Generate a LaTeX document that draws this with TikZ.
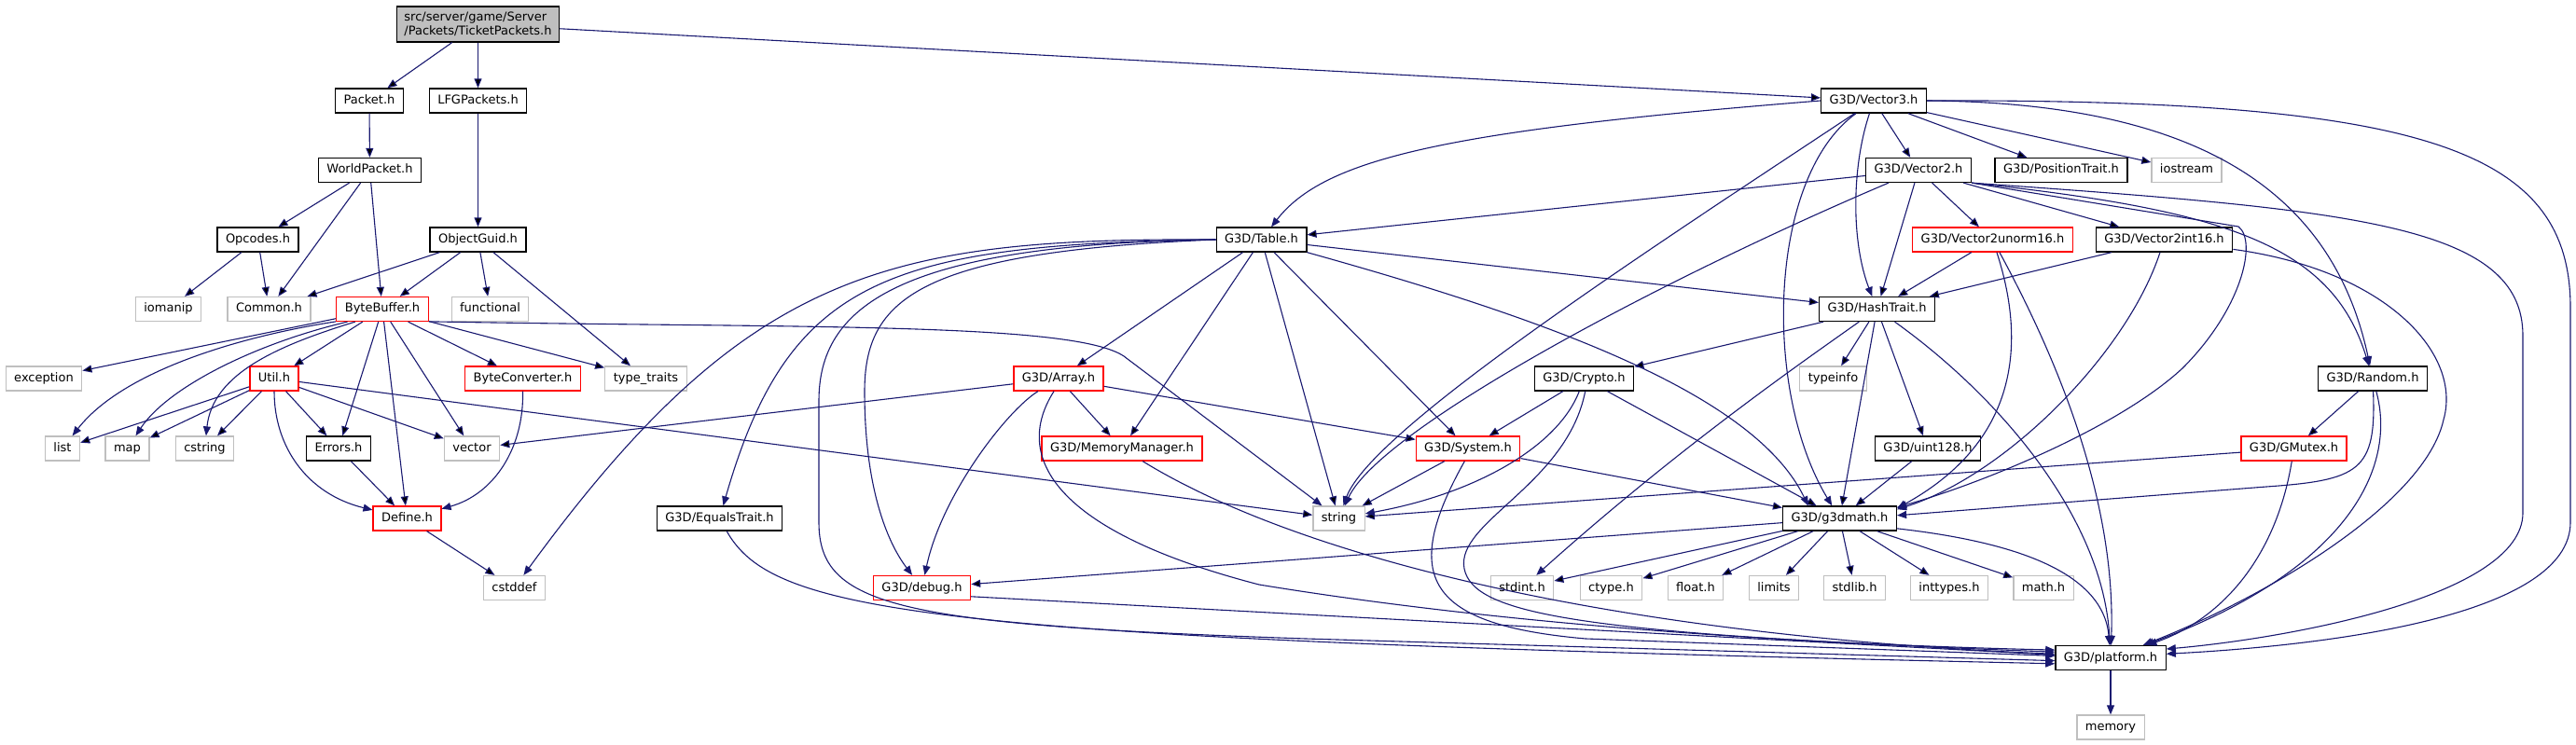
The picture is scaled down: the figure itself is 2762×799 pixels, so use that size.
\documentclass[tikz,border=0pt]{standalone}
\usepackage{fontspec}
\setmainfont{DejaVu Sans}
\usetikzlibrary{arrows.meta}
\definecolor{incblue}{HTML}{191970}
\definecolor{sysgray}{HTML}{BFBFBF}
\begin{document}
\begin{tikzpicture}[x=1pt, y=-1pt,
    hdr/.style={draw=black, line width=1.3pt, fill=white,
      font=\fontsize{13}{15}\selectfont, inner xsep=9pt, inner ysep=0pt,
      minimum height=26pt, text height=10pt, text depth=3pt},
    trunc/.style={hdr, draw=red},
    sys/.style={hdr, draw=sysgray},
    top/.style={draw=black, line width=1.3pt, fill=sysgray,
      font=\fontsize{13}{15}\selectfont, align=left, inner xsep=8pt, inner ysep=6pt},
    inc/.style={draw=incblue, line width=1.1pt, -{Triangle[length=10pt, width=8pt]}}]
    \useasboundingbox (0,0) rectangle (2762,799);

    \node[top] (root) at (512.5,26) {src/server/game/Server\\/Packets/TicketPackets.h};
    \node[hdr] (packet) at (396,108) {Packet.h};
    \node[hdr] (lfg) at (512.5,108) {LFGPackets.h};
    \node[hdr] (vecthree) at (2009,108) {G3D/Vector3.h};
    \node[hdr] (worldpkt) at (396.5,182.5) {WorldPacket.h};
    \node[hdr] (vectwo) at (2057,182.5) {G3D/Vector2.h};
    \node[hdr] (postrait) at (2210,182.5) {G3D/PositionTrait.h};
    \node[sys] (iostream) at (2344.5,182.5) {iostream};
    \node[hdr] (opcodes) at (276.5,257) {Opcodes.h};
    \node[hdr] (objguid) at (512.5,257) {ObjectGuid.h};
    \node[hdr] (table) at (1352.5,257) {G3D/Table.h};
    \node[trunc] (vunorm) at (2136.5,257) {G3D/Vector2unorm16.h};
    \node[hdr] (vint) at (2320.5,257) {G3D/Vector2int16.h};
    \node[sys] (iomanip) at (180.5,331.5) {iomanip};
    \node[sys] (common) at (288.5,331.5) {Common.h};
    \node[trunc] (bytebuf) at (410,331.5) {ByteBuffer.h};
    \node[sys] (functional) at (525.5,331.5) {functional};
    \node[hdr] (hashtrait) at (2012.5,331.5) {G3D/HashTrait.h};
    \node[sys] (exception) at (47,406) {exception};
    \node[trunc] (util) at (294,406) {Util.h};
    \node[trunc] (byteconv) at (560.5,406) {ByteConverter.h};
    \node[sys] (typetraits) at (692.5,406) {type\_traits};
    \node[trunc] (array) at (1135,406) {G3D/Array.h};
    \node[hdr] (crypto) at (1698.5,406) {G3D/Crypto.h};
    \node[sys] (typeinfo) at (1965.5,406) {typeinfo};
    \node[hdr] (random) at (2544,406) {G3D/Random.h};
    \node[sys] (list) at (67,481) {list};
    \node[sys] (map) at (136.5,481) {map};
    \node[sys] (cstring) at (219.5,481) {cstring};
    \node[hdr] (errors) at (363,481) {Errors.h};
    \node[sys] (vector) at (506,481) {vector};
    \node[trunc] (memmgr) at (1203,481) {G3D/MemoryManager.h};
    \node[trunc] (system) at (1574,481) {G3D/System.h};
    \node[hdr] (uint) at (2067,481) {G3D/uint128.h};
    \node[trunc] (gmutex) at (2459.5,481) {G3D/GMutex.h};
    \node[trunc] (define) at (436.5,556) {Define.h};
    \node[hdr] (equals) at (771.5,556) {G3D/EqualsTrait.h};
    \node[sys] (string) at (1435.5,556) {string};
    \node[hdr] (gmath) at (1972.5,556) {G3D/g3dmath.h};
    \node[sys] (cstddef) at (551.5,630.5) {cstddef};
    \node[trunc] (debug) at (988.5,630.5) {G3D/debug.h};
    \node[sys] (stdint) at (1632,630.5) {stdint.h};
    \node[sys] (ctype) at (1727.5,630.5) {ctype.h};
    \node[sys] (float) at (1818,630.5) {float.h};
    \node[sys] (limits) at (1902,630.5) {limits};
    \node[sys] (stdlib) at (1988.5,630.5) {stdlib.h};
    \node[sys] (inttypes) at (2090,630.5) {inttypes.h};
    \node[sys] (mathh) at (2191,630.5) {math.h};
    \node[hdr] (platform) at (2263,705.5) {G3D/platform.h};
    \node[sys] (memory) at (2263,780) {memory};

    \draw[inc] (root) edge (packet) edge (lfg) edge (vecthree);
    \draw[inc] (packet) edge (worldpkt);
    \draw[inc] (lfg) edge (objguid);
    \draw[inc] (worldpkt) edge (opcodes) edge (common) edge (bytebuf);
    \draw[inc] (opcodes) edge (iomanip) edge (common);
    \draw[inc] (objguid) edge (common) edge (bytebuf) edge (functional) edge (typetraits);
    \draw[inc] (bytebuf) edge (exception) edge (util) edge (errors) edge (define) edge (vector) edge (byteconv) edge (typetraits);
    \draw[inc] (util) edge (list) edge (map) edge (cstring) edge (errors) edge (vector) edge (string);
    \draw[inc] (errors) edge (define);
    \draw[inc] (define) edge (cstddef);
    \draw[inc] (vecthree) edge (vectwo) edge (postrait) edge (iostream);
    \draw[inc] (vectwo) edge (table) edge (hashtrait) edge (vunorm) edge (vint);
    \draw[inc] (vunorm) edge (hashtrait);
    \draw[inc] (vint) edge (hashtrait);
    \draw[inc] (table) edge (array) edge (memmgr) edge (string) edge (system) edge (hashtrait);
    \draw[inc] (array) edge (vector) edge (memmgr) edge (system);
    \draw[inc] (hashtrait) edge (crypto) edge (typeinfo) edge (gmath) edge (uint);
    \draw[inc] (crypto) edge (system) edge (gmath);
    \draw[inc] (system) edge (string) edge (gmath);
    \draw[inc] (random) edge (gmutex);
    \draw[inc] (gmutex) edge (string);
    \draw[inc] (uint) edge (gmath);
    \draw[inc] (gmath) edge (debug) edge (stdint) edge (ctype) edge (float) edge (limits) edge (stdlib) edge (inttypes) edge (mathh);
    \draw[inc] (debug.-10) -- (platform);
    \draw[inc] (platform) -- (memory);

    \draw[inc] (bytebuf.195) .. controls (250,362) and (130,400) .. (list);
    \draw[inc] (bytebuf.200) .. controls (275,368) and (180,415) .. (map);
    \draw[inc] (bytebuf.205) .. controls (300,370) and (228,400) .. (cstring);
    \draw[inc] (bytebuf.-15) .. controls (850,352) and (1150,345) .. (1205,382) -- (string);
    \draw[inc] (util.south) .. controls (294,480) and (330,530) .. (define);
    \draw[inc] (byteconv.south) .. controls (562,480) and (530,530) .. (define);
    \draw[inc] (table.west) .. controls (950,255) and (800,290) .. (cstddef);
    \draw[inc] (table.west) .. controls (950,262) and (845,300) .. (equals);
    \draw[inc] (table.west) .. controls (960,262) and (878,330) .. (878,430) -- (878,560) .. controls (878,650) and (960,670) .. (1400,685) -- (platform.183);
    \draw[inc] (table.west) .. controls (985,270) and (927,320) .. (927,420) .. controls (927,520) and (950,580) .. (debug);
    \draw[inc] (table) .. controls (1650,340) and (1880,420) .. (gmath.158);
    \draw[inc] (array) .. controls (1080,440) and (1010,530) .. (debug);
    \draw[inc] (array.-110) .. controls (1085,490) and (1130,570) .. (1350,627) .. controls (1600,668) and (1900,690) .. (platform.172);
    \draw[inc] (memmgr) .. controls (1380,590) and (1700,680) .. (platform.176);
    \draw[inc] (equals) .. controls (830,660) and (1000,685) .. (platform.186);
    \draw[inc] (system.-105) .. controls (1500,620) and (1530,670) .. (1700,685) -- (platform.178);
    \draw[inc] (crypto) .. controls (1670,480) and (1580,530) .. (string);
    \draw[inc] (crypto.-85) .. controls (1680,520) and (1560,560) .. (1570,610) .. controls (1580,660) and (1700,680) .. (platform.174);
    \draw[inc] (hashtrait) .. controls (1930,390) and (1800,480) .. (stdint);
    \draw[inc] (hashtrait) .. controls (2150,430) and (2255,560) .. (platform);
    \draw[inc] (vecthree.west) .. controls (1550,140) and (1420,170) .. (table);
    \draw[inc] (vecthree) .. controls (1780,260) and (1470,460) .. (string);
    \draw[inc] (vecthree) .. controls (1895,190) and (1890,420) .. (gmath);
    \draw[inc] (vecthree) .. controls (1985,180) and (1985,260) .. (hashtrait);
    \draw[inc] (vecthree.east) .. controls (2350,110) and (2500,200) .. (random);
    \draw[inc] (vecthree.east) .. controls (2600,106) and (2756,160) .. (2756,330) -- (2756,560) .. controls (2756,660) and (2500,692) .. (platform.4);
    \draw[inc] (vectwo) .. controls (1780,300) and (1480,460) .. (string);
    \draw[inc] (vectwo.south east) -- (2400,243) .. controls (2420,258) and (2405,330) .. (2340,395) .. controls (2270,460) and (2120,520) .. (gmath.11);
    \draw[inc] (vectwo.south east) .. controls (2380,225) and (2500,260) .. (random);
    \draw[inc] (vectwo.south east) .. controls (2520,225) and (2705,240) .. (2705,360) -- (2705,550) .. controls (2705,640) and (2450,685) .. (platform.9);
    \draw[inc] (vunorm) .. controls (2170,360) and (2170,470) .. (gmath.10);
    \draw[inc] (vunorm) .. controls (2225,420) and (2268,560) .. (platform);
    \draw[inc] (vint) .. controls (2280,380) and (2150,510) .. (gmath.9);
    \draw[inc] (vint.-8) .. controls (2560,290) and (2640,380) .. (2620,450) .. controls (2600,540) and (2430,640) .. (platform);
    \draw[inc] (random) .. controls (2548,505) and (2530,515) .. (2430,522) -- (gmath.3);
    \draw[inc] (random) .. controls (2570,500) and (2520,610) .. (platform);
    \draw[inc] (gmutex) .. controls (2440,600) and (2380,665) .. (platform);
    \draw[inc] (gmath.-10) .. controls (2150,580) and (2255,610) .. (platform);
\end{tikzpicture}
\end{document}
